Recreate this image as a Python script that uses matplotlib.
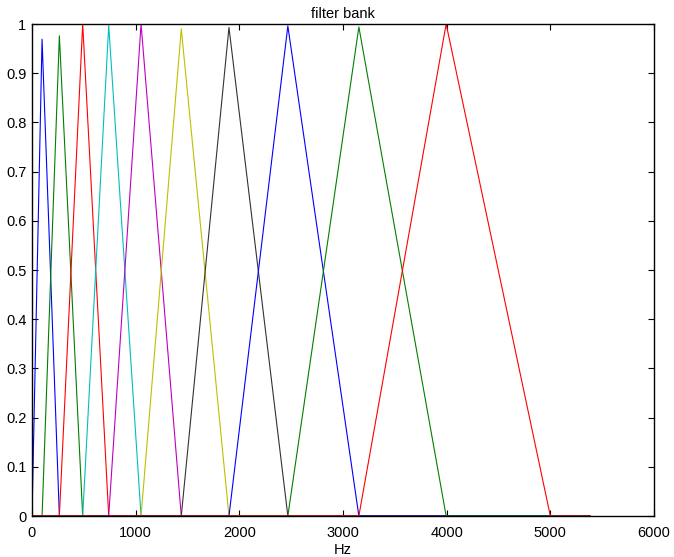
import numpy as np
import matplotlib
matplotlib.use("Agg")
import matplotlib.pyplot as plt

plt.rcParams['font.family'] = ['Liberation Sans', 'DejaVu Sans']

# filter edges (Hz): filter k goes edges[k] -> edges[k+1] (peak) -> edges[k+2]
edges = [0, 97, 264, 489, 740, 1052, 1440, 1900, 2468, 3153, 3995, 5000]
peaks = [0.969, 0.976, 1.0, 0.997, 1.0, 0.99, 0.993, 0.996, 0.994, 1.0]
colors = ['b', 'g', 'r', 'c', 'm', 'y', '#333333', 'b', 'g', 'r']
fmax = 5380

fig = plt.figure(figsize=(6.74, 5.57), dpi=100)
ax = fig.add_axes([32 / 674, 1 - 516 / 557, 622 / 674, 492 / 557])

for k in range(len(peaks)):
    xs = [0, edges[k], edges[k + 1], edges[k + 2], fmax]
    ys = [0, 0, peaks[k], 0, 0]
    ax.plot(xs, ys, color=colors[k], lw=0.8)

ax.set_xlim(0, 6000)
ax.set_ylim(0, 1)
ax.set_xticks(np.arange(0, 6001, 1000))
ax.set_yticks(np.arange(0, 1.01, 0.1))
ax.set_yticklabels(['0', '0.1', '0.2', '0.3', '0.4', '0.5', '0.6', '0.7', '0.8', '0.9', '1'])
ax.tick_params(direction='in', top=True, right=True, length=4, labelsize=10.5)
ax.tick_params(axis='x', pad=7)
ax.tick_params(axis='y', pad=4)
for s in ax.spines.values():
    s.set_linewidth(1.0)
ax.set_title('filter bank', fontsize=10.5, pad=4)
ax.set_xlabel('Hz', fontsize=10.5, labelpad=2)

fig.savefig('out.png', dpi=100)
